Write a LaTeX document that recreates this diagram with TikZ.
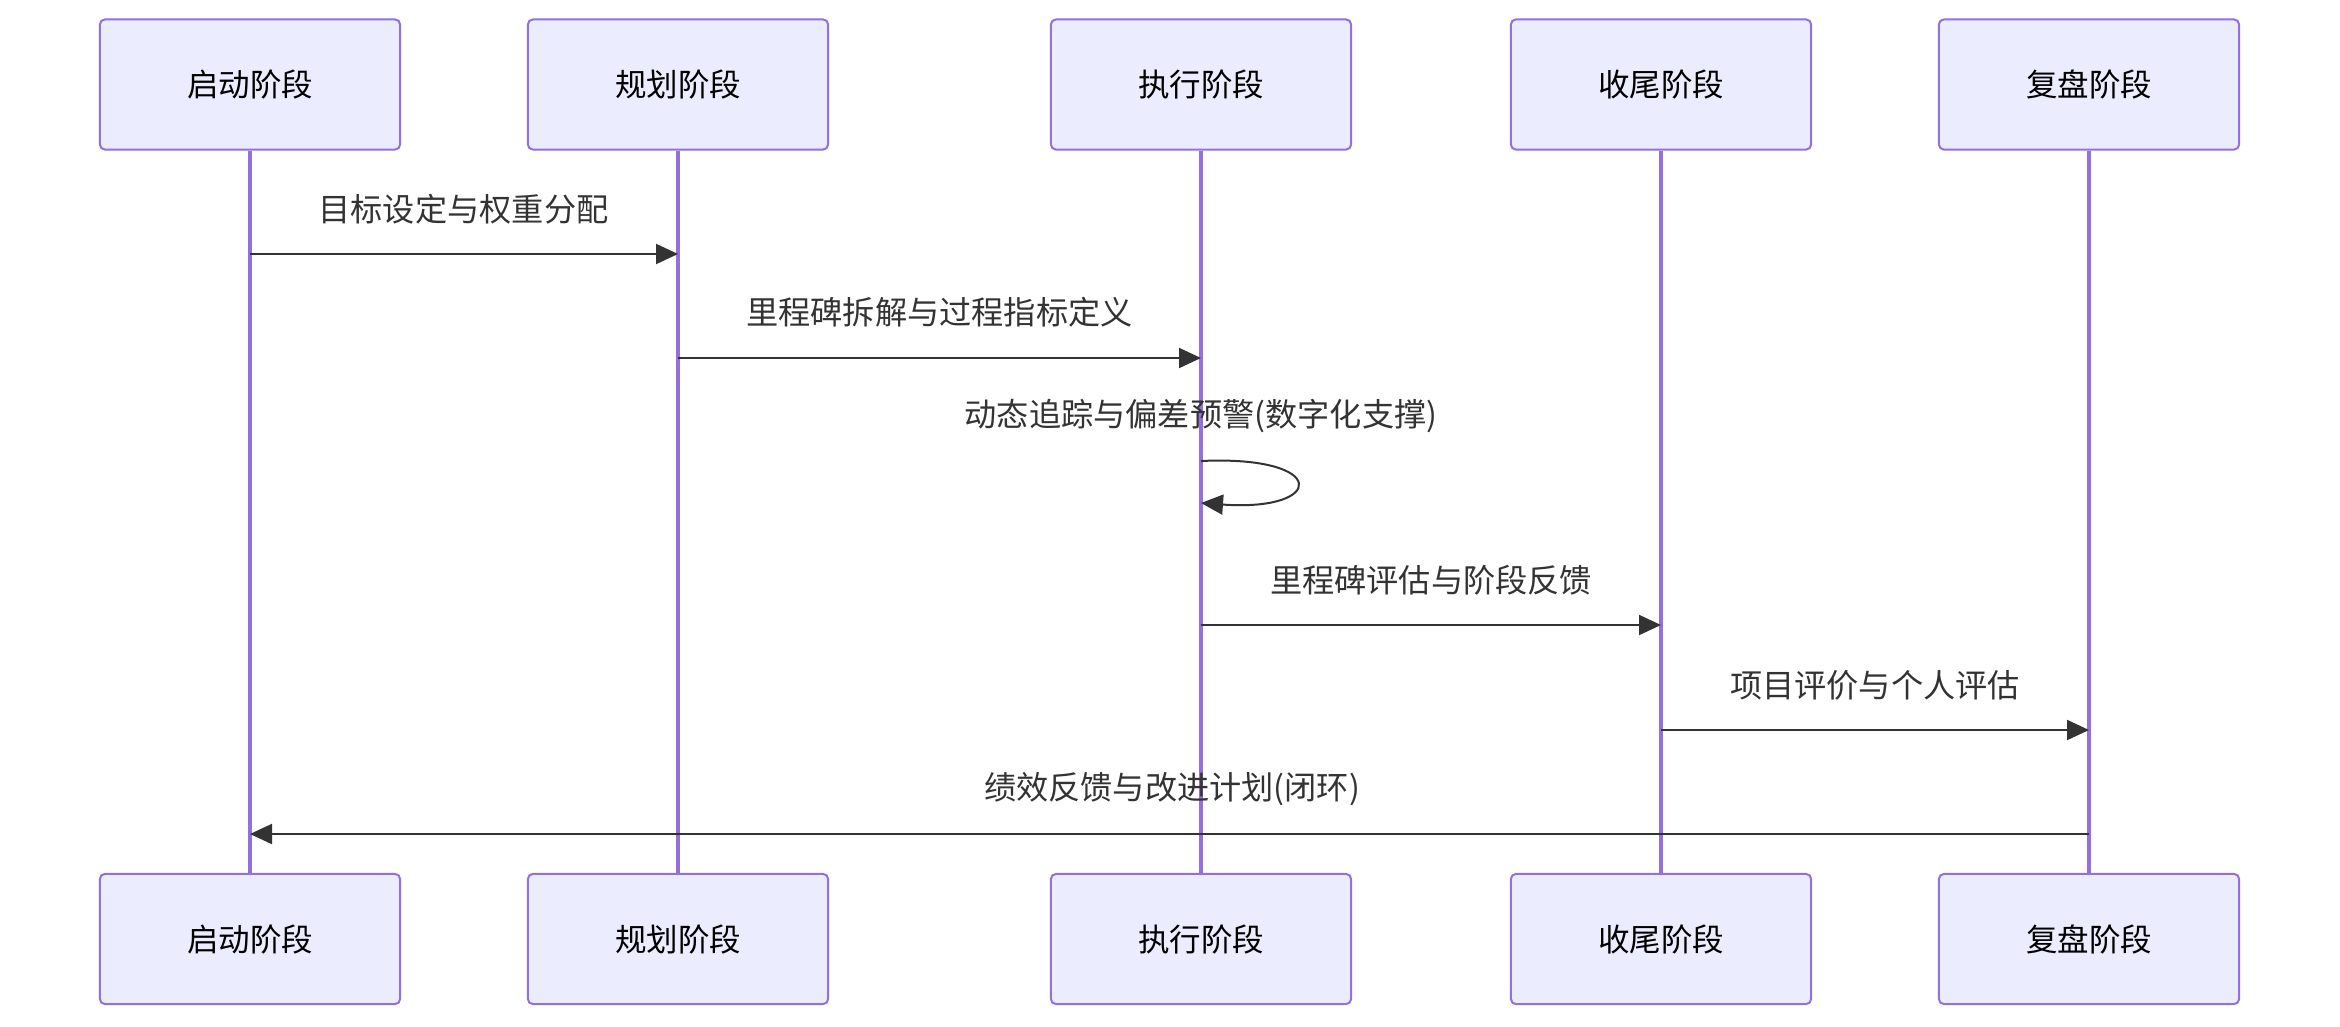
\documentclass[tikz,border=0pt]{standalone}
\usepackage{fontspec}
\setmainfont{Noto Sans CJK SC}
\usetikzlibrary{arrows.meta}
\definecolor{actorfill}{HTML}{ECECFF}
\definecolor{actorline}{HTML}{9370DB}
\definecolor{msgline}{HTML}{333333}
\tikzset{
  actor/.style={draw=actorline, line width=0.05cm, fill=actorfill, rounded corners=0.12cm,
    minimum width=7.5cm, minimum height=3.25cm, font=\fontsize{22.4}{27}\selectfont, text=black},
  lifeline/.style={draw=actorline, line width=0.085cm},
  msg/.style={draw=msgline, line width=0.05cm, -{Triangle[length=0.55cm,width=0.5cm]}},
  msglabel/.style={font=\fontsize{22.9}{27}\selectfont, text=msgline, inner sep=0pt},
}
\begin{document}
\begin{tikzpicture}[x=0.025cm, y=-0.025cm]
      \useasboundingbox (0,0) rectangle (2340,1026);
      % Draw the actors and their lifelines
      \foreach \name/\x/\txt in {qd/250/启动阶段, gh/678/规划阶段, zx/1201/执行阶段, sw/1661/收尾阶段, fp/2089/复盘阶段} {
        \node[actor] (\name top) at (\x,84.5) {\txt};
        \node[actor] (\name bot) at (\x,939) {\txt};
        \draw[lifeline] (\name top) -- (\name bot);
      }
      % Place the message labels
      \node[msglabel] (lmubiao) at (463.5,209) {目标设定与权重分配};
      \node[msglabel] (llicheng) at (939.5,312) {里程碑拆解与过程指标定义};
      \node[msglabel] (lzhuizong) at (1201,416) {动态追踪与偏差预警(数字化支撑)};
      \node[msglabel] (lpinggu) at (1431,580) {里程碑评估与阶段反馈};
      \node[msglabel] (lxiangmu) at (1875,685) {项目评价与个人评估};
      \node[msglabel] (lfankui) at (1172,789) {绩效反馈与改进计划(闭环)};
      % Draw the messages
      \draw[msg] (qdtop |- 0,254) -- (ghtop |- 0,254);
      \draw[msg] (ghtop |- 0,358) -- (zxtop |- 0,358);
      \draw[msg] (zxtop |- 0,461) .. controls (1330,455) and (1326,512) .. (zxtop |- 0,503);
      \draw[msg] (zxtop |- 0,625) -- (swtop |- 0,625);
      \draw[msg] (swtop |- 0,730) -- (fptop |- 0,730);
      \draw[msg] (fptop |- 0,834) -- (qdtop |- 0,834);
    \end{tikzpicture}
\end{document}
